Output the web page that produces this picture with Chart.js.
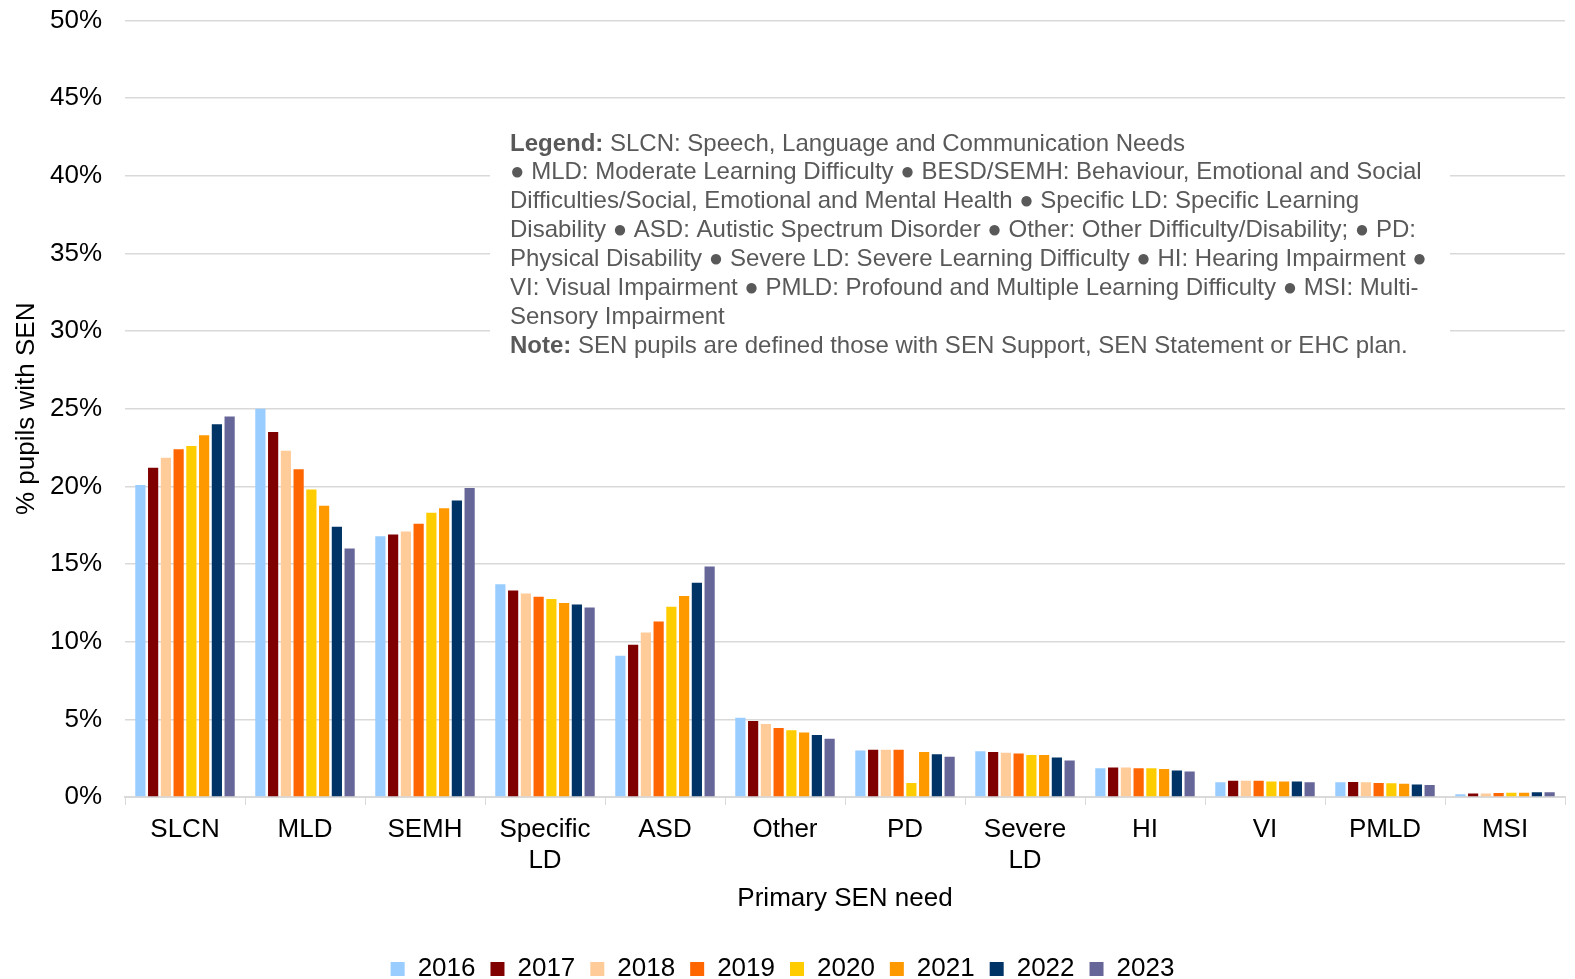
<!doctype html>
<html lang="en">
<head>
    <meta charset="UTF-8">
    <title>Primary SEN need</title>
    <script src="https://cdn.jsdelivr.net/npm/chart.js"></script>
    <style>
        html, body { margin: 0; padding: 0; background: #fff; overflow: hidden; }
        #wrap { width: 1575px; height: 1010px; margin-top: -18px; }
    </style>
</head>
<body>
    <div id="wrap"><canvas id="senChart"></canvas></div>
    <script>
        const categories = ['SLCN', 'MLD', 'SEMH', ['Specific', 'LD'], 'ASD', 'Other', 'PD', ['Severe', 'LD'], 'HI', 'VI', 'PMLD', 'MSI'];
        const years = ['2016', '2017', '2018', '2019', '2020', '2021', '2022', '2023'];

        // % of SEN pupils, one array per year, in category order
        const y2016 = [20.1, 25.0, 16.8, 13.7, 9.1, 5.1, 3.0, 2.95, 1.85, 0.95, 0.95, 0.17];
        const y2017 = [21.2, 23.5, 16.9, 13.3, 9.8, 4.9, 3.05, 2.9, 1.9, 1.05, 0.97, 0.23];
        const y2018 = [21.85, 22.3, 17.1, 13.1, 10.6, 4.7, 3.05, 2.85, 1.9, 1.05, 0.95, 0.23];
        const y2019 = [22.4, 21.1, 17.6, 12.9, 11.3, 4.45, 3.05, 2.8, 1.85, 1.05, 0.9, 0.25];
        const y2020 = [22.6, 19.8, 18.3, 12.75, 12.25, 4.3, 0.9, 2.7, 1.85, 1.0, 0.88, 0.27];
        const y2021 = [23.3, 18.75, 18.6, 12.5, 12.95, 4.15, 2.9, 2.7, 1.8, 1.0, 0.85, 0.27];
        const y2022 = [24.0, 17.4, 19.1, 12.4, 13.8, 4.0, 2.75, 2.55, 1.7, 1.0, 0.8, 0.3];
        const y2023 = [24.5, 16.0, 19.9, 12.2, 14.85, 3.75, 2.6, 2.35, 1.65, 0.95, 0.77, 0.3];

        const seriesValues = [y2016, y2017, y2018, y2019, y2020, y2021, y2022, y2023];
        const seriesColors = ['#99CCFF', '#800000', '#FFCC99', '#FF6600', '#FFCC00', '#FF9900', '#003366', '#666699'];

        const noteLines = [
            [['Legend: ', true], ['SLCN: Speech, Language and Communication Needs', false]],
            [['\u25CF MLD: Moderate Learning Difficulty \u25CF BESD/SEMH: Behaviour, Emotional and Social', false]],
            [['Difficulties/Social, Emotional and Mental Health \u25CF Specific LD: Specific Learning', false]],
            [['Disability \u25CF ASD: Autistic Spectrum Disorder \u25CF Other: Other Difficulty/Disability; \u25CF PD:', false]],
            [['Physical Disability \u25CF Severe LD: Severe Learning Difficulty \u25CF HI: Hearing Impairment \u25CF', false]],
            [['VI: Visual Impairment \u25CF PMLD: Profound and Multiple Learning Difficulty \u25CF MSI: Multi-', false]],
            [['Sensory Impairment', false]],
            [['Note: ', true], ['SEN pupils are defined those with SEN Support, SEN Statement or EHC plan.', false]]
        ];

        const FONT = '"Liberation Sans", Arial, sans-serif';
        const SHIFT = 18; // canvas sits this far above the page top

        // white text box over the gridlines with the abbreviations note
        const notePlugin = {
            id: 'noteBox',
            beforeDatasetsDraw(chart) {
                const ctx = chart.ctx;
                ctx.save();
                ctx.fillStyle = '#ffffff';
                ctx.fillRect(490, 124 + SHIFT, 960, 240);
                ctx.fillStyle = '#595959';
                ctx.textBaseline = 'middle';
                let y = 144 + SHIFT;
                noteLines.forEach(line => {
                    let x = 510;
                    line.forEach(([txt, bold]) => {
                        ctx.font = (bold ? 'bold ' : '') + '24px ' + FONT;
                        ctx.fillText(txt, x, y);
                        x += ctx.measureText(txt).width;
                    });
                    y += 28.85;
                });
                ctx.restore();
            }
        };

        const ctx = document.getElementById('senChart').getContext('2d');
        new Chart(ctx, {
            type: 'bar',
            data: {
                labels: categories,
                datasets: years.map((yr, i) => ({
                    label: yr,
                    data: seriesValues[i],
                    backgroundColor: seriesColors[i],
                    borderWidth: 0,
                    categoryPercentage: 0.85,
                    barPercentage: 0.8
                }))
            },
            plugins: [notePlugin],
            options: {
                responsive: true,
                maintainAspectRatio: false,
                animation: false,
                layout: { autoPadding: false, padding: { top: 20, right: 10, left: 0, bottom: 0 } },
                plugins: {
                    tooltip: { enabled: false },
                    legend: {
                        position: 'bottom',
                        labels: {
                            color: '#000',
                            font: { family: FONT, size: 26 },
                            boxWidth: 14,
                            boxHeight: 14,
                            padding: 15
                        }
                    }
                },
                scales: {
                    x: {
                        offset: true,
                        afterFit: s => { s.height = 144; },
                        grid: {
                            offset: true,
                            drawOnChartArea: false,
                            drawTicks: true,
                            tickLength: 8,
                            color: '#d9d9d9'
                        },
                        border: { display: true, color: '#d9d9d9', width: 2 },
                        ticks: {
                            color: '#000',
                            font: { family: FONT, size: 26 },
                            maxRotation: 0,
                            autoSkip: false,
                            padding: 9
                        },
                        title: {
                            display: true,
                            text: 'Primary SEN need',
                            color: '#000',
                            font: { family: FONT, size: 26 },
                            padding: { top: 6, bottom: 27 }
                        }
                    },
                    y: {
                        min: 0,
                        max: 50,
                        afterFit: s => { s.width = 125; },
                        ticks: {
                            stepSize: 5,
                            color: '#000',
                            font: { family: FONT, size: 26 },
                            padding: 23,
                            callback: v => v + '%'
                        },
                        grid: { color: '#d9d9d9', lineWidth: 1.5, drawTicks: false },
                        border: { display: false },
                        title: {
                            display: true,
                            text: '% pupils with SEN',
                            color: '#000',
                            font: { family: FONT, size: 26 },
                            padding: { top: 11, bottom: 8 }
                        }
                    }
                }
            }
        });
    </script>
</body>
</html>
